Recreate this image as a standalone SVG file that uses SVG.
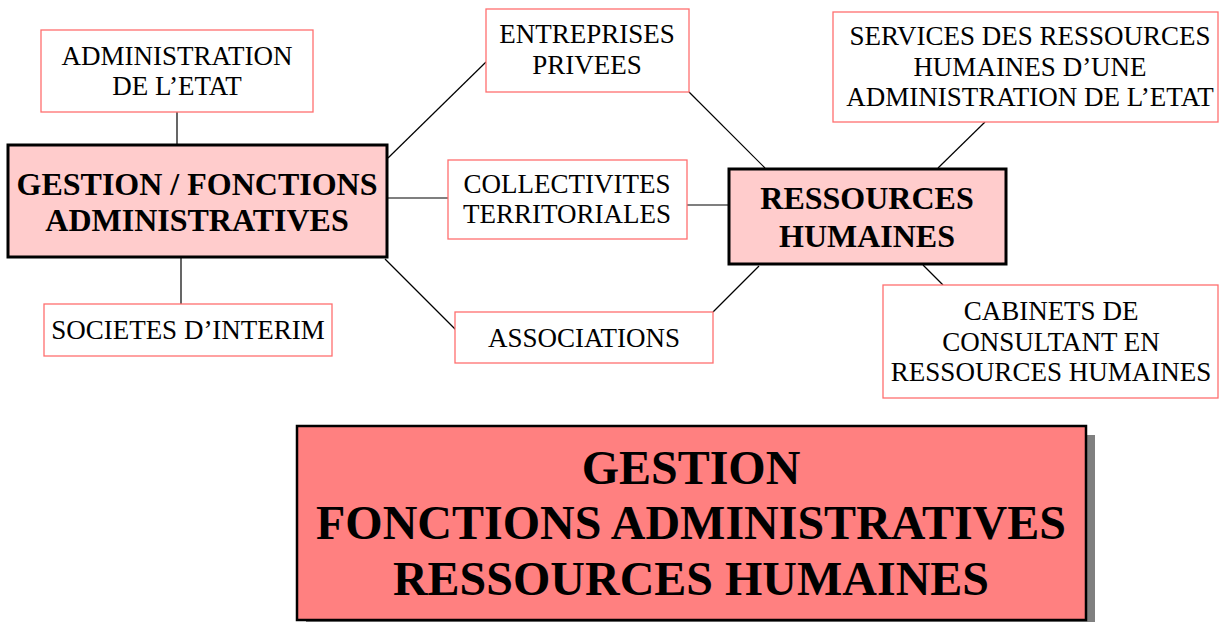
<svg xmlns="http://www.w3.org/2000/svg" width="1219" height="622" viewBox="0 0 1219 622">
<style>
.leaf{fill:#ffffff;stroke:#ff6f6f;stroke-width:1.3}
.hub{fill:#ffcccc;stroke:#000000;stroke-width:3}
.t{font-family:"Liberation Serif","Times New Roman",serif;font-size:27px;fill:#000;text-anchor:middle}
.b{font-family:"Liberation Serif","Times New Roman",serif;font-size:32px;font-weight:bold;fill:#000;text-anchor:middle}
.big{font-family:"Liberation Serif","Times New Roman",serif;font-size:48px;font-weight:bold;fill:#000;text-anchor:middle}
.c{stroke:#000;stroke-width:1.2;fill:none}
</style>
<rect width="1219" height="622" fill="#ffffff"/>
<g id="connectors">
<line class="c" x1="177" y1="112" x2="177" y2="144"/>
<line class="c" x1="181" y1="258" x2="181" y2="304"/>
<line class="c" x1="388" y1="158" x2="486" y2="62"/>
<line class="c" x1="388" y1="198" x2="448" y2="198"/>
<line class="c" x1="385" y1="259" x2="456" y2="330"/>
<line class="c" x1="689" y1="92" x2="765" y2="168"/>
<line class="c" x1="687" y1="205" x2="728" y2="205"/>
<line class="c" x1="713" y1="312" x2="759" y2="266"/>
<line class="c" x1="985" y1="122" x2="938" y2="168"/>
<line class="c" x1="923" y1="265" x2="943" y2="285"/>
</g>
<g id="admin-etat">
<rect class="leaf" x="41" y="30" width="272" height="82"/>
<text class="t" x="177" y="65">ADMINISTRATION</text>
<text class="t" x="177" y="95">DE L’ETAT</text>
</g>
<g id="gestion-fonctions">
<rect class="hub" x="8" y="145" width="379" height="112"/>
<text class="b" x="197" y="195">GESTION / FONCTIONS</text>
<text class="b" x="197" y="231">ADMINISTRATIVES</text>
</g>
<g id="societes-interim">
<rect class="leaf" x="44" y="304" width="288" height="52"/>
<text class="t" x="188" y="339">SOCIETES D’INTERIM</text>
</g>
<g id="entreprises">
<rect class="leaf" x="486" y="9" width="203" height="83"/>
<text class="t" x="587" y="43">ENTREPRISES</text>
<text class="t" x="587" y="74">PRIVEES</text>
</g>
<g id="collectivites">
<rect class="leaf" x="448" y="160" width="239" height="79"/>
<text class="t" x="567" y="193">COLLECTIVITES</text>
<text class="t" x="567" y="223">TERRITORIALES</text>
</g>
<g id="associations">
<rect class="leaf" x="455" y="312" width="258" height="51"/>
<text class="t" x="584" y="347">ASSOCIATIONS</text>
</g>
<g id="ressources-humaines">
<rect class="hub" x="729" y="169" width="277" height="95"/>
<text class="b" x="867" y="209">RESSOURCES</text>
<text class="b" x="867" y="247">HUMAINES</text>
</g>
<g id="services-rh">
<rect class="leaf" x="833" y="12" width="385" height="110"/>
<text class="t" x="1030" y="45">SERVICES DES RESSOURCES</text>
<text class="t" x="1030" y="76">HUMAINES D’UNE</text>
<text class="t" x="1030" y="106">ADMINISTRATION DE L’ETAT</text>
</g>
<g id="cabinets">
<rect class="leaf" x="883" y="285" width="335" height="113"/>
<text class="t" x="1051" y="320">CABINETS DE</text>
<text class="t" x="1051" y="351">CONSULTANT EN</text>
<text class="t" x="1051" y="381">RESSOURCES HUMAINES</text>
</g>
<g id="titre">
<rect x="306" y="435" width="789" height="194" fill="#808080"/>
<rect x="297" y="426" width="789" height="194" fill="#ff8080" stroke="#000" stroke-width="2.5"/>
<text class="big" x="691" y="484">GESTION</text>
<text class="big" x="691" y="539">FONCTIONS ADMINISTRATIVES</text>
<text class="big" x="691" y="595">RESSOURCES HUMAINES</text>
</g>
</svg>
